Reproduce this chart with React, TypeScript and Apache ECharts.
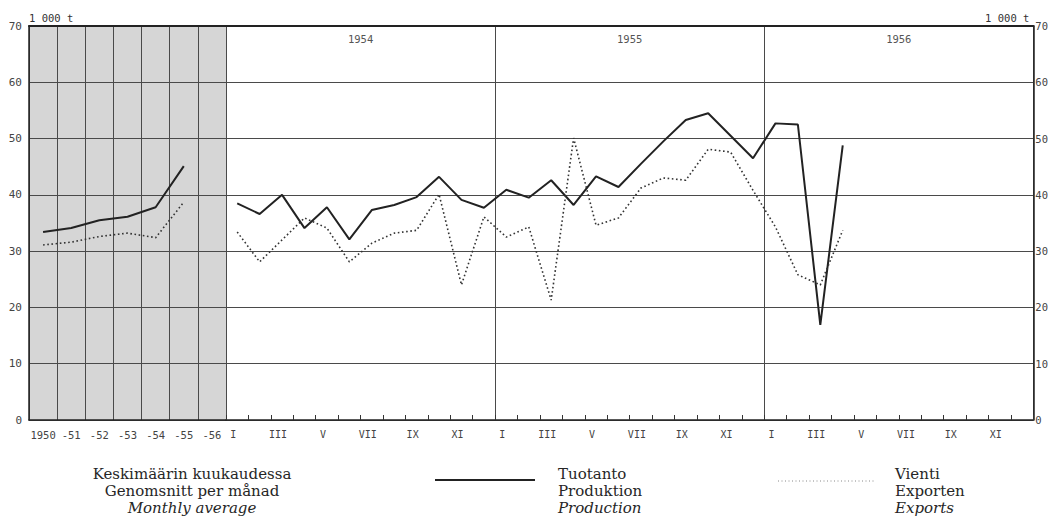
import React, { useEffect, useRef } from 'react';
import * as echarts from 'echarts';

// Annual (monthly average) section
const yearCats = ['1950', '-51', '-52', '-53', '-54', '-55', '-56'];
const prodAnnual = [33.4, 34.1, 35.5, 36.1, 37.8, 45.1, null];
const expAnnual = [31.1, 31.6, 32.6, 33.2, 32.4, 38.7, null];

// Monthly section
const years = ['1954', '1955', '1956'];
const monthNames = ['I', 'II', 'III', 'IV', 'V', 'VI', 'VII', 'VIII', 'IX', 'X', 'XI', 'XII'];
const monthCats = years.flatMap((y) => monthNames.map((m) => `${y}-${m}`));

const prod1954 = [38.5, 36.6, 40.0, 34.1, 37.8, 32.1, 37.3, 38.2, 39.6, 43.2, 39.1, 37.7];
const prod1955 = [40.9, 39.5, 42.6, 38.2, 43.3, 41.4, 45.5, 49.5, 53.3, 54.5, 50.5, 46.5];
const prod1956 = [52.7, 52.5, 16.9, 48.8, null, null, null, null, null, null, null, null];

const exp1954 = [33.4, 28.1, 32.0, 35.9, 34.1, 28.1, 31.4, 33.2, 33.7, 40.1, 24.0, 36.1];
const exp1955 = [32.5, 34.3, 21.3, 50.1, 34.6, 35.9, 41.2, 43.0, 42.6, 48.1, 47.6, 40.8];
const exp1956 = [34.3, 25.8, 24.0, 33.7, null, null, null, null, null, null, null, null];

const prodMonthly = [...prod1954, ...prod1955, ...prod1956];
const expMonthly = [...exp1954, ...exp1955, ...exp1956];

const unitLabel = '1 000 t';
const legendAvg = ['Keskimäärin kuukaudessa', 'Genomsnitt per månad', 'Monthly average'];
const legendProd = ['Tuotanto', 'Produktion', 'Production'];
const legendExp = ['Vienti', 'Exporten', 'Exports'];

const MONO = '"DejaVu Sans Mono", "Liberation Mono", monospace';
const SERIF = '"DejaVu Serif", "Liberation Serif", serif';
const GRID_COLOR = '#4a4a4a';
const LABEL_COLOR = '#444';

export default function App() {
  const ref = useRef<HTMLDivElement>(null);

  useEffect(() => {
    if (!ref.current) return;
    const chart = echarts.init(ref.current, null, { renderer: 'svg' });

    const legendText = (lines: string[], x: number, align: string) =>
      lines.map((t, i) => ({
        type: 'text',
        x,
        y: 474 + i * 17,
        style: {
          text: t,
          fill: '#262626',
          font: `${i === 2 ? 'italic ' : ''}15px ${SERIF}`,
          textAlign: align,
          textVerticalAlign: 'middle',
        },
      }));

    const option = {
      animation: false,
      backgroundColor: '#ffffff',
      grid: [
        { left: 29, top: 26, width: 197, height: 394, show: true, backgroundColor: '#d6d6d6', borderWidth: 0 },
        { left: 226, top: 26, width: 809, height: 394, show: false },
      ],
      xAxis: [
        {
          type: 'category',
          gridIndex: 0,
          data: yearCats,
          boundaryGap: true,
          axisLine: { show: true, lineStyle: { color: '#222', width: 1.5 } },
          axisTick: { show: false },
          axisLabel: { color: LABEL_COLOR, fontSize: 10.5, fontFamily: MONO, margin: 9, interval: 0 },
          splitLine: { show: true, interval: 0, lineStyle: { color: GRID_COLOR, width: 1 } },
        },
        {
          type: 'category',
          gridIndex: 1,
          data: monthCats,
          boundaryGap: true,
          axisLine: { show: true, lineStyle: { color: '#222', width: 1.5 } },
          axisTick: { show: true, inside: true, length: 5, interval: 0, lineStyle: { color: '#333', width: 1 } },
          axisLabel: {
            color: LABEL_COLOR,
            fontSize: 10,
            fontFamily: MONO,
            margin: 9,
            interval: 1,
            padding: [0, 8, 0, 0],
            formatter: (v: string) => v.split('-')[1],
          },
          splitLine: {
            show: true,
            interval: (i: number) => i % 12 === 0,
            lineStyle: { color: GRID_COLOR, width: 1 },
          },
        },
        {
          type: 'category',
          gridIndex: 0,
          position: 'top',
          data: yearCats,
          axisLine: { show: true, lineStyle: { color: '#222', width: 2 } },
          axisTick: { show: false },
          axisLabel: { show: false },
          splitLine: { show: false },
        },
        {
          type: 'category',
          gridIndex: 1,
          position: 'top',
          data: years,
          axisLine: { show: true, lineStyle: { color: '#222', width: 2 } },
          axisTick: { show: false },
          axisLabel: { show: true, inside: true, margin: 7, color: '#555', fontSize: 10.5, fontFamily: MONO },
          splitLine: { show: false },
        },
      ],
      yAxis: [
        {
          type: 'value',
          gridIndex: 0,
          min: 0,
          max: 70,
          interval: 10,
          name: unitLabel,
          nameLocation: 'end',
          nameGap: 3,
          nameTextStyle: { align: 'left', verticalAlign: 'bottom', color: '#333', fontSize: 10.5, fontFamily: MONO },
          axisLine: { show: true, lineStyle: { color: '#222', width: 1.5 } },
          axisTick: { show: false },
          axisLabel: { color: LABEL_COLOR, fontSize: 11, fontFamily: MONO, margin: 7 },
          splitLine: { show: true, lineStyle: { color: GRID_COLOR, width: 1 } },
        },
        {
          type: 'value',
          gridIndex: 1,
          position: 'right',
          min: 0,
          max: 70,
          interval: 10,
          name: unitLabel,
          nameLocation: 'end',
          nameGap: 3,
          nameTextStyle: {
            align: 'right',
            verticalAlign: 'bottom',
            color: '#333',
            fontSize: 10.5,
            fontFamily: MONO,
            padding: [0, 4, 0, 0],
          },
          axisLine: { show: true, lineStyle: { color: '#222', width: 1.5 } },
          axisTick: { show: false },
          axisLabel: { color: LABEL_COLOR, fontSize: 10.5, fontFamily: MONO, margin: 2 },
          splitLine: { show: true, lineStyle: { color: GRID_COLOR, width: 1 } },
        },
      ],
      series: [
        {
          name: 'Tuotanto (keskim.)',
          type: 'line',
          xAxisIndex: 0,
          yAxisIndex: 0,
          data: prodAnnual,
          showSymbol: false,
          lineStyle: { color: '#222', width: 2 },
        },
        {
          name: 'Vienti (keskim.)',
          type: 'line',
          xAxisIndex: 0,
          yAxisIndex: 0,
          data: expAnnual,
          showSymbol: false,
          lineStyle: { color: '#333', width: 1.6, type: [1.6, 2.6] },
        },
        {
          name: 'Tuotanto',
          type: 'line',
          xAxisIndex: 1,
          yAxisIndex: 1,
          data: prodMonthly,
          showSymbol: false,
          lineStyle: { color: '#222', width: 2 },
        },
        {
          name: 'Vienti',
          type: 'line',
          xAxisIndex: 1,
          yAxisIndex: 1,
          data: expMonthly,
          showSymbol: false,
          lineStyle: { color: '#333', width: 1.6, type: [1.6, 2.6] },
        },
      ],
      graphic: [
        ...legendText(legendAvg, 192, 'center'),
        {
          type: 'line',
          shape: { x1: 435, y1: 480, x2: 535, y2: 480 },
          style: { stroke: '#222', lineWidth: 2 },
        },
        ...legendText(legendProd, 558, 'left'),
        {
          type: 'line',
          shape: { x1: 778, y1: 481, x2: 876, y2: 481 },
          style: { stroke: '#888', lineWidth: 1, lineDash: [1, 2.5] },
        },
        ...legendText(legendExp, 895, 'left'),
      ],
    };

    chart.setOption(option as any);
    return () => chart.dispose();
  }, []);

  return (
    <div
      ref={ref}
      style={{ position: 'absolute', left: 0, top: 0, width: 1051, height: 517 }}
    />
  );
}
